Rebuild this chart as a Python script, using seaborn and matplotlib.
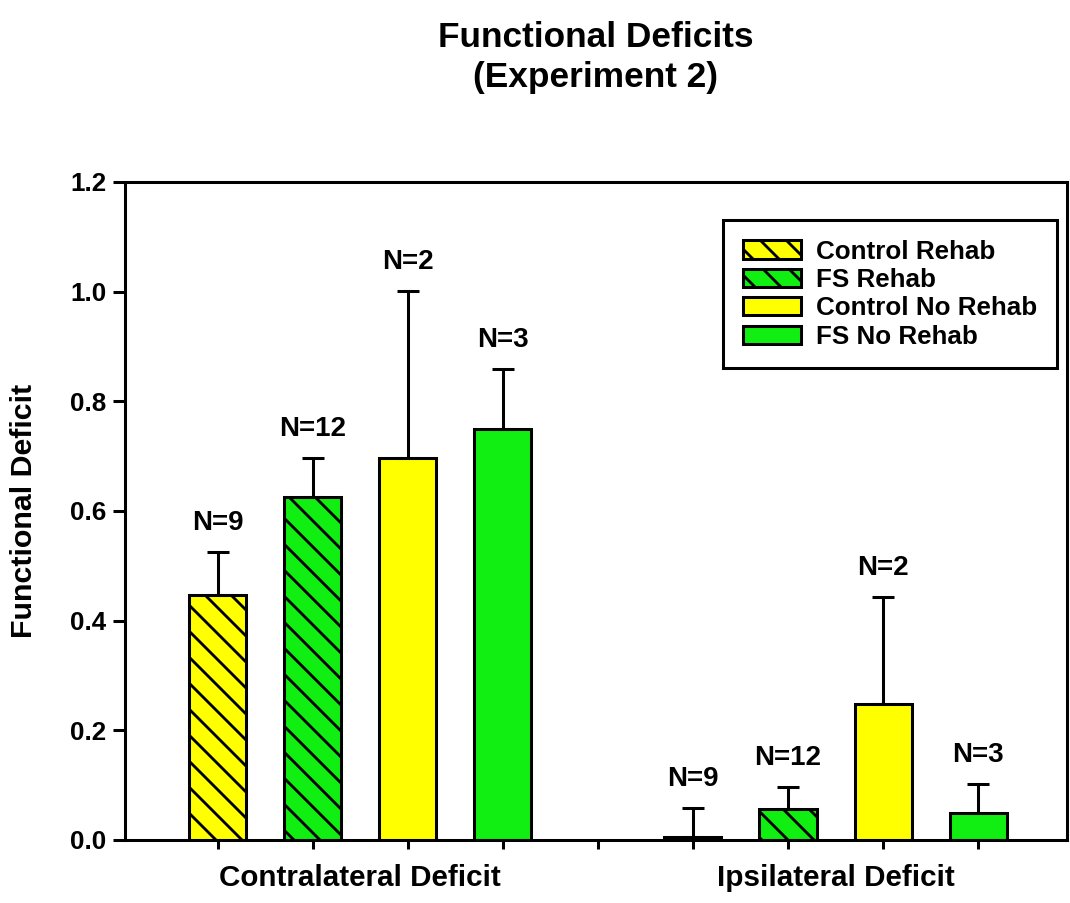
import numpy as np
import pandas as pd
import matplotlib
matplotlib.use('Agg')
import matplotlib.pyplot as plt
from matplotlib.ticker import FormatStrFormatter
import seaborn as sns

# --- 資料 ---
groups = ['Contralateral Deficit', 'Ipsilateral Deficit']
conditions = ['Control Rehab', 'FS Rehab', 'Control No Rehab', 'FS No Rehab']
contra_mean = [0.447, 0.626, 0.697, 0.750]
contra_err = [0.078, 0.071, 0.304, 0.109]
ipsi_mean = [0.005, 0.057, 0.248, 0.050]
ipsi_err = [0.053, 0.040, 0.195, 0.052]
n_labels = ['N=9', 'N=12', 'N=2', 'N=3']
y_ticks = [0.0, 0.2, 0.4, 0.6, 0.8, 1.0, 1.2]

palette = {'Control Rehab': '#ffff00', 'FS Rehab': '#11ee11',
           'Control No Rehab': '#ffff00', 'FS No Rehab': '#11ee11'}

df = pd.DataFrame({
    'group': np.repeat(groups, len(conditions)),
    'condition': conditions * len(groups),
    'mean': contra_mean + ipsi_mean,
    'err': contra_err + ipsi_err,
    'n': n_labels * len(groups),
})

# --- 樣式 ---
DPI = 156
LW = 1.4
sns.set_style('ticks')
plt.rcParams['font.family'] = ['Liberation Sans', 'DejaVu Sans']
plt.rcParams['hatch.linewidth'] = 1.3
for key in ['text.color', 'axes.labelcolor', 'xtick.color', 'ytick.color']:
    plt.rcParams[key] = 'black'

fig = plt.figure(figsize=(1070 / DPI, 903 / DPI), dpi=DPI)
ax = fig.add_axes([0.1168, 0.0698, 0.8804, 0.7287])

sns.barplot(data=df, x='group', y='mean', hue='condition', order=groups,
            hue_order=conditions, palette=palette, saturation=1,
            errorbar=None, gap=0.4, edgecolor='black', linewidth=LW,
            legend=False, ax=ax)

# 斜線 + 誤差線 + N 標籤
bar_centers = []
for cond, cont in zip(conditions, ax.containers):
    if 'No Rehab' not in cond:
        for p in cont.patches:
            p.set_hatch('\\\\')
    sub = df[df['condition'] == cond].set_index('group').loc[groups]
    xs = [p.get_x() + p.get_width() / 2 for p in cont.patches]
    bar_centers += xs
    ax.errorbar(xs, sub['mean'], yerr=[np.zeros(len(xs)), sub['err']],
                fmt='none', ecolor='black', elinewidth=LW, capsize=5.3,
                capthick=LW, zorder=3)
    for x, m, e, n in zip(xs, sub['mean'], sub['err'], sub['n']):
        ax.annotate(n, (x, m + e), xytext=(0, 10), textcoords='offset points',
                    ha='center', va='baseline', fontsize=12.8, fontweight='bold')

# --- 座標軸 ---
ax.set_xlim(-0.495, 1.487)
ax.set_ylim(0, 1.2)
ax.set_yticks(y_ticks)
ax.yaxis.set_major_formatter(FormatStrFormatter('%.1f'))
ax.tick_params(axis='y', direction='out', length=5.5, width=LW, labelsize=12, pad=3)
for lab in ax.get_yticklabels():
    lab.set_fontweight('bold')

ax.set_xticks(sorted(bar_centers) + [0.5], minor=True)
ax.tick_params(axis='x', which='minor', direction='out', length=4.2, width=LW)
ax.tick_params(axis='x', which='major', length=0, labelsize=13.7, pad=11)
for lab in ax.get_xticklabels():
    lab.set_fontweight('bold')
ax.set_xlabel('')

for sp in ax.spines.values():
    sp.set_linewidth(LW)
    sp.set_color('black')

ax.set_ylabel('Functional Deficit', fontsize=14, fontweight='bold')
ax.yaxis.set_label_coords(-0.092, 0.5)

ax.set_title('Functional Deficits\n(Experiment 2)', fontsize=16.3,
             fontweight='bold', pad=44, linespacing=1.25)

leg = ax.legend(handles=ax.containers, labels=conditions, loc='upper right',
                bbox_to_anchor=(0.989, 0.942), borderaxespad=0, frameon=True,
                fancybox=False, edgecolor='black', framealpha=1,
                prop={'weight': 'bold', 'size': 12}, handlelength=2.24,
                handleheight=0.7, handletextpad=0.58, labelspacing=0.17,
                borderpad=0.75)
leg.get_frame().set_linewidth(LW)

fig.savefig('out.png', dpi=DPI)
